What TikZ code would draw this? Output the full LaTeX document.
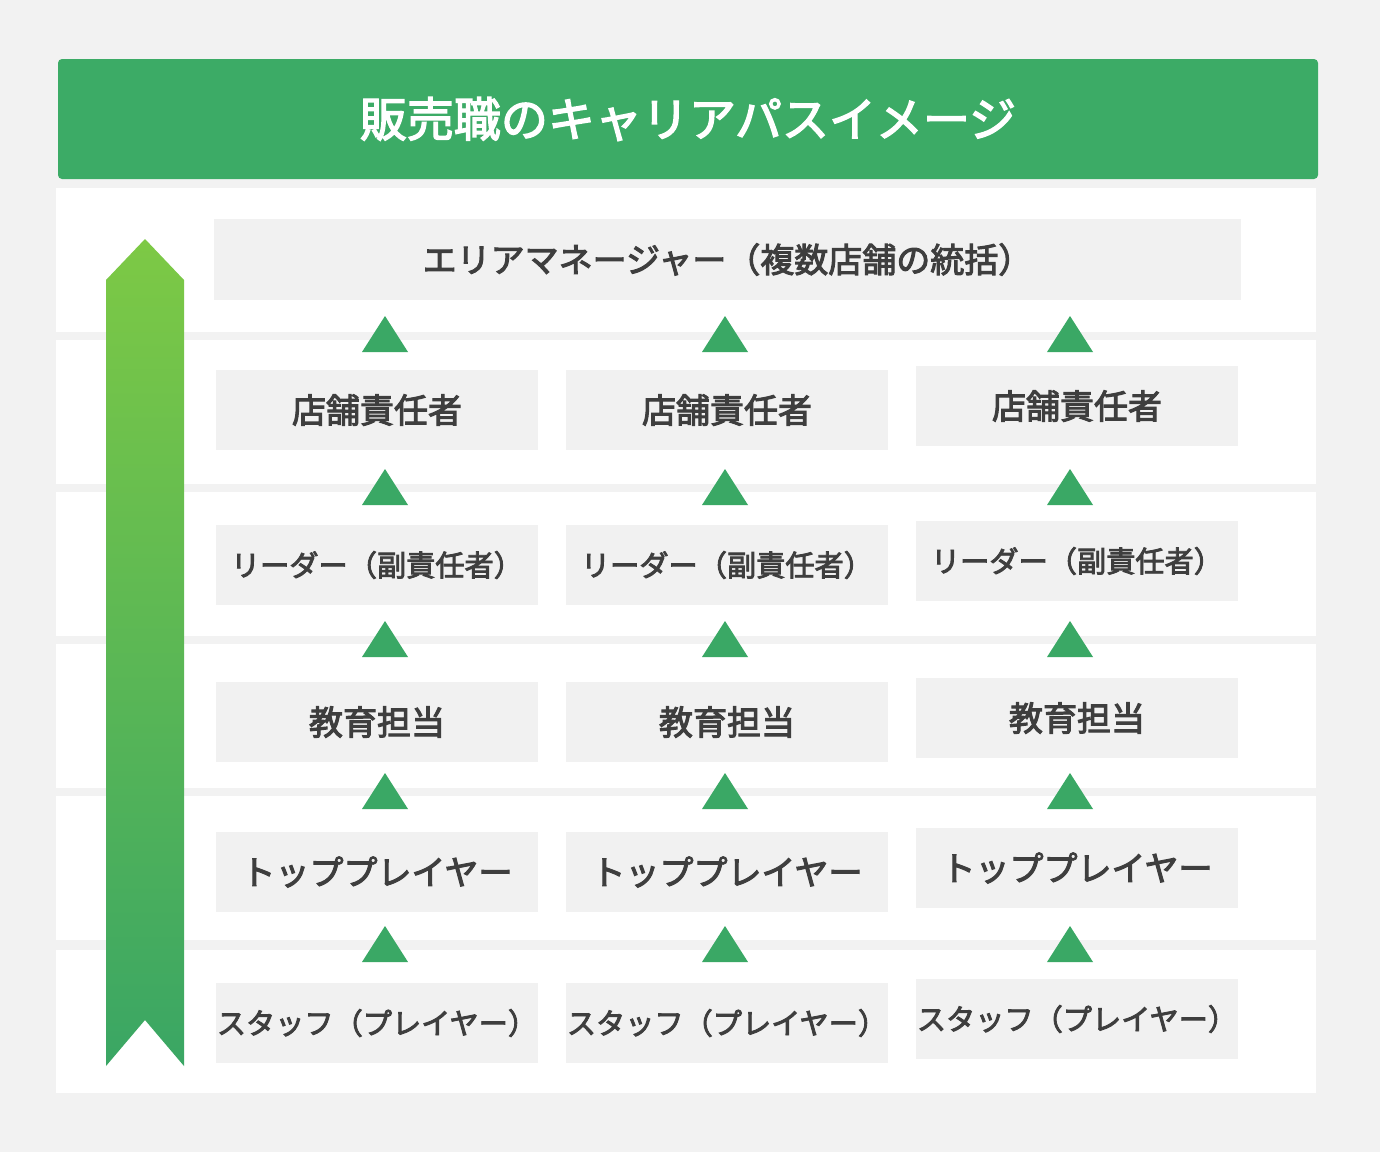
\documentclass[tikz,border=0pt]{standalone}
\usepackage{fontspec}
\setmainfont{Noto Sans CJK JP}
\newfontfamily\medfont{Noto Sans CJK JP}[FakeBold=3]
\usetikzlibrary{positioning}
\definecolor{bggray}{HTML}{F2F2F2}
\definecolor{boxgray}{HTML}{F1F1F1}
\definecolor{barGreen}{HTML}{3CAB66}
\definecolor{triGreen}{HTML}{3AA865}
\definecolor{arrowTop}{HTML}{7DC945}
\definecolor{arrowBot}{HTML}{3AA664}
\definecolor{txtgray}{HTML}{3E3E3E}

\begin{document}
\begin{tikzpicture}[x=0.5pt, y=-0.5pt, text=txtgray,
  box/.style={fill=boxgray, minimum width=161pt, minimum height=40pt, inner sep=0pt},
  big/.style={font=\medfont\fontsize{17}{20}\selectfont},
  small/.style={font=\medfont\fontsize{14.6}{17}\selectfont}]
	\fill[bggray] (0,0) rectangle (1380,1152);
	\useasboundingbox (0,0) rectangle (1380,1152);
	% title bar
	\node[fill=barGreen, rounded corners=2pt, minimum width=630pt, minimum height=60pt, text=white,
	  font=\medfont\fontsize{23.5}{26}\selectfont] (title) at (688,119) {販売職のキャリアパスイメージ};
	% white rows
	\foreach \ya/\yb in {188/332, 340/484, 492/636, 644/788, 796/940, 950/1093}
	  \fill[white] (56,\ya) rectangle (1316,\yb);
	% career arrow
	\shade[top color=arrowTop, bottom color=arrowBot] (106,280) -- (145,239) -- (184,280) -- (184,1066)
	  -- (145,1020) -- (106,1066) -- cycle;
	% boxes
	\node[box, big, minimum width=513.5pt, minimum height=40.5pt] (mgr) at (727.5,259.5) {エリアマネージャー（複数店舗の統括）};
	\foreach \i/\cx/\dy in {1/377/0, 2/727/0, 3/1077/-4} {
	  \node[box, big] (chief\i) at (\cx,410+\dy) {店舗責任者};
	  \node[box, small] (sub\i) at (\cx,565+\dy) {リーダー（副責任者）};
	  \node[box, big] (edu\i) at (\cx,722+\dy) {教育担当};
	  \node[box, big] (top\i) at (\cx,872+\dy) {トッププレイヤー};
	  \node[box, small] (staff\i) at (\cx,1023+\dy) {スタッフ（プレイヤー）};
	}
	% step triangles
	\foreach \cx in {385,725,1070}
	  \foreach \ty in {316,469,621,773,926}
	    \fill[triGreen] (\cx-23,\ty+36) -- (\cx,\ty) -- (\cx+23,\ty+36) -- cycle;
\end{tikzpicture}
\end{document}
